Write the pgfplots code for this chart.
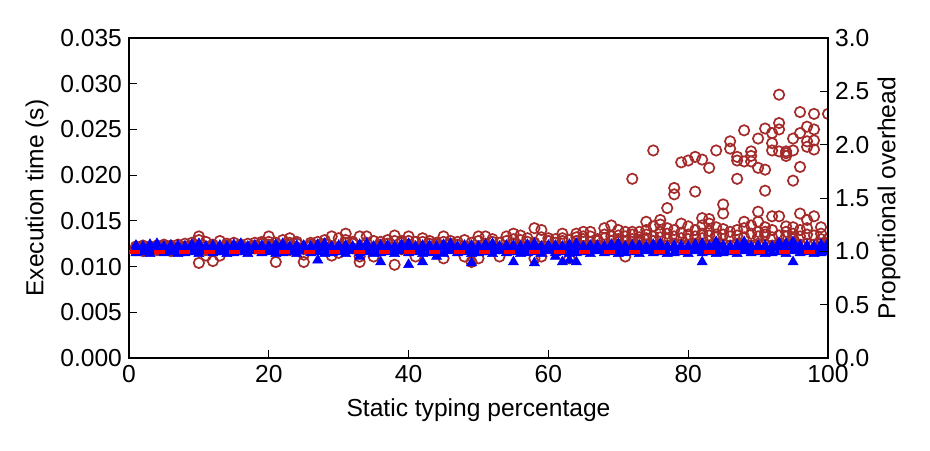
\documentclass[border=0pt]{standalone}
\usepackage{fontspec}
\setmainfont{Liberation Sans}
\usepackage{pgfplots}
\usepackage{pgfplotstable}
\pgfplotsset{compat=1.18}
\definecolor{cbrown}{RGB}{165,42,42}

\pgfplotstableread{
x c1 c2 c3
1 0.0118 0.0120 0.0122
2 0.0117 0.0121 0.0123
3 0.0119 0.0122 0.0120
4 0.0118 0.0123 0.0121
5 0.0120 0.0122 0.0124
6 0.0117 0.0121 0.0123
7 0.0119 0.0124 0.0121
8 0.0118 0.0122 0.0125
9 0.0120 0.0123 0.0126
10 0.0119 0.0129 0.0104
11 0.0118 0.0122 0.0112
12 0.0120 0.0124 0.0106
13 0.0119 0.0128 0.0112
14 0.0118 0.0123 0.0125
15 0.0120 0.0126 0.0122
16 0.0119 0.0124 0.0121
17 0.0121 0.0125 0.0118
18 0.0120 0.0123 0.0126
19 0.0118 0.0125 0.0127
20 0.0121 0.0133 0.0124
21 0.0119 0.0105 0.0126
22 0.0122 0.0129 0.0120
23 0.0118 0.0131 0.0124
24 0.0121 0.0125 0.0127
25 0.0119 0.0105 0.0113
26 0.0122 0.0126 0.0124
27 0.0120 0.0127 0.0123
28 0.0118 0.0125 0.0129
29 0.0121 0.0133 0.0112
30 0.0119 0.0131 0.0115
31 0.0122 0.0136 0.0126
32 0.0120 0.0127 0.0125
33 0.0118 0.0105 0.0111
34 0.0121 0.0133 0.0126
35 0.0119 0.0111 0.0128
36 0.0122 0.0127 0.0124
37 0.0120 0.0129 0.0125
38 0.0121 0.0134 0.0102
39 0.0119 0.0126 0.0128
40 0.0122 0.0133 0.0124
41 0.0120 0.0111 0.0127
42 0.0121 0.0131 0.0127
43 0.0119 0.0125 0.0128
44 0.0122 0.0126 0.0124
45 0.0120 0.0133 0.0109
46 0.0121 0.0128 0.0125
47 0.0119 0.0127 0.0124
48 0.0122 0.0129 0.0111
49 0.0120 0.0105 0.0126
50 0.0121 0.0109 0.0128
51 0.0119 0.0133 0.0125
52 0.0122 0.0127 0.0130
53 0.0120 0.0111 0.0126
54 0.0121 0.0133 0.0128
55 0.0119 0.0136 0.0125
56 0.0122 0.0134 0.0129
57 0.0120 0.0127 0.0131
58 0.0121 0.0142 0.0109
59 0.0119 0.0140 0.0111
60 0.0122 0.0128 0.0131
61 0.0120 0.0126 0.0130
62 0.0121 0.0136 0.0131
63 0.0123 0.0129 0.0109
64 0.0120 0.0136 0.0128
65 0.0122 0.0133 0.0130
66 0.0121 0.0138 0.0127
67 0.0123 0.0130 0.0128
68 0.0122 0.0142 0.0131
69 0.0121 0.0145 0.0133
70 0.0123 0.0140 0.0130
71 0.0122 0.0128 0.0111
72 0.0124 0.0130 0.0196
73 0.0123 0.0129 0.0138
74 0.0124 0.0131 0.0149
75 0.0122 0.0128 0.0227
76 0.0124 0.0132 0.0151
77 0.0123 0.0130 0.0164
78 0.0125 0.0133 0.0186
79 0.0124 0.0131 0.0214
80 0.0123 0.0130 0.0216
81 0.0125 0.0133 0.0220
82 0.0124 0.0131 0.0217
83 0.0123 0.0134 0.0208
84 0.0125 0.0132 0.0227
85 0.0124 0.0135 0.0168
86 0.0123 0.0133 0.0237
87 0.0125 0.0134 0.0220
88 0.0124 0.0132 0.0249
89 0.0123 0.0136 0.0226
90 0.0125 0.0133 0.0240
91 0.0124 0.0135 0.0251
92 0.0123 0.0132 0.0246
93 0.0125 0.0134 0.0288
94 0.0124 0.0133 0.0226
95 0.0123 0.0131 0.0227
96 0.0124 0.0133 0.0269
97 0.0125 0.0135 0.0253
98 0.0124 0.0134 0.0267
99 0.0125 0.0136 0.0143
100 0.0126 0.0130 0.0267
}\circmain

\pgfplotstableread{
x y
10 0.0133
11 0.0127
20 0.0127
23 0.0126
31 0.0129
33 0.0133
35 0.0121
38 0.0128
40 0.0128
45 0.0127
50 0.0133
55 0.0130
58 0.0126
59 0.0132
62 0.0128
64 0.0132
65 0.0138
66 0.0133
68 0.0135
69 0.0128
70 0.0134
70 0.0127
71 0.0138
71 0.0133
72 0.0138
72 0.0135
73 0.0132
73 0.0126
74 0.0135
74 0.0140
75 0.0144
75 0.0133
76 0.0138
76 0.0146
77 0.0136
77 0.0142
78 0.0179
78 0.0140
79 0.0147
79 0.0137
80 0.0144
80 0.0135
81 0.0182
81 0.0140
82 0.0153
82 0.0145
82 0.0136
83 0.0152
83 0.0147
83 0.0139
84 0.0143
84 0.0135
85 0.0158
85 0.0141
86 0.0229
86 0.0138
87 0.0216
87 0.0196
87 0.0140
88 0.0215
88 0.0149
88 0.0142
89 0.0221
89 0.0215
89 0.0145
90 0.0208
90 0.0160
90 0.0149
90 0.0138
91 0.0206
91 0.0183
91 0.0138
91 0.0143
92 0.0235
92 0.0227
92 0.0155
92 0.0140
93 0.0257
93 0.0250
93 0.0226
93 0.0155
94 0.0224
94 0.0221
94 0.0144
94 0.0138
95 0.0240
95 0.0194
95 0.0136
95 0.0130
95 0.0143
96 0.0246
96 0.0209
96 0.0158
96 0.0140
97 0.0237
97 0.0231
97 0.0151
97 0.0142
98 0.0250
98 0.0238
98 0.0228
98 0.0155
99 0.0130
}\circextra

\pgfplotstableread{
x t1 t2 t3
1 0.0115 0.0119 0.0123
2 0.0116 0.0121 0.0122
3 0.0114 0.0120 0.0124
4 0.0117 0.0118 0.0125
5 0.0115 0.0121 0.0122
6 0.0116 0.0119 0.0123
7 0.0114 0.0121 0.0123
8 0.0115 0.0120 0.0122
9 0.0116 0.0118 0.0124
10 0.0114 0.0121 0.0125
11 0.0117 0.0119 0.0122
12 0.0115 0.0121 0.0123
13 0.0116 0.0120 0.0123
14 0.0114 0.0118 0.0122
15 0.0115 0.0121 0.0124
16 0.0116 0.0119 0.0125
17 0.0114 0.0121 0.0122
18 0.0117 0.0120 0.0123
19 0.0115 0.0118 0.0123
20 0.0116 0.0121 0.0122
21 0.0114 0.0119 0.0124
22 0.0115 0.0121 0.0125
23 0.0116 0.0120 0.0122
24 0.0114 0.0118 0.0123
25 0.0117 0.0121 0.0123
26 0.0115 0.0119 0.0122
27 0.0116 0.0121 0.0124
28 0.0114 0.0120 0.0125
29 0.0115 0.0118 0.0122
30 0.0116 0.0121 0.0123
31 0.0114 0.0119 0.0123
32 0.0117 0.0121 0.0122
33 0.0115 0.0120 0.0124
34 0.0116 0.0118 0.0125
35 0.0114 0.0121 0.0122
36 0.0115 0.0119 0.0123
37 0.0116 0.0121 0.0123
38 0.0114 0.0120 0.0122
39 0.0117 0.0118 0.0124
40 0.0115 0.0121 0.0125
41 0.0116 0.0119 0.0122
42 0.0114 0.0121 0.0123
43 0.0115 0.0120 0.0123
44 0.0116 0.0118 0.0122
45 0.0114 0.0121 0.0124
46 0.0117 0.0119 0.0125
47 0.0115 0.0121 0.0122
48 0.0116 0.0120 0.0123
49 0.0114 0.0118 0.0123
50 0.0115 0.0121 0.0122
51 0.0116 0.0119 0.0124
52 0.0114 0.0121 0.0125
53 0.0117 0.0120 0.0122
54 0.0115 0.0118 0.0123
55 0.0116 0.0121 0.0123
56 0.0114 0.0119 0.0122
57 0.0115 0.0121 0.0124
58 0.0116 0.0120 0.0125
59 0.0114 0.0118 0.0122
60 0.0117 0.0121 0.0123
61 0.0115 0.0119 0.0123
62 0.0116 0.0121 0.0122
63 0.0114 0.0120 0.0124
64 0.0115 0.0118 0.0125
65 0.0116 0.0121 0.0122
66 0.0114 0.0119 0.0123
67 0.0117 0.0121 0.0123
68 0.0115 0.0120 0.0122
69 0.0116 0.0118 0.0124
70 0.0114 0.0121 0.0125
71 0.0115 0.0119 0.0122
72 0.0116 0.0121 0.0123
73 0.0114 0.0120 0.0123
74 0.0117 0.0118 0.0122
75 0.0115 0.0121 0.0124
76 0.0116 0.0119 0.0125
77 0.0114 0.0121 0.0122
78 0.0115 0.0120 0.0123
79 0.0116 0.0118 0.0123
80 0.0114 0.0121 0.0122
81 0.0117 0.0119 0.0124
82 0.0115 0.0121 0.0125
83 0.0116 0.0120 0.0122
84 0.0114 0.0118 0.0123
85 0.0115 0.0121 0.0123
86 0.0116 0.0119 0.0122
87 0.0114 0.0121 0.0124
88 0.0117 0.0120 0.0125
89 0.0115 0.0118 0.0122
90 0.0116 0.0121 0.0123
91 0.0114 0.0119 0.0123
92 0.0115 0.0121 0.0122
93 0.0116 0.0120 0.0124
94 0.0114 0.0118 0.0125
95 0.0117 0.0121 0.0122
96 0.0115 0.0119 0.0123
97 0.0116 0.0121 0.0123
98 0.0114 0.0120 0.0122
99 0.0115 0.0118 0.0124
100 0.0116 0.0121 0.0125
}\trimain

\pgfplotstableread{
x y
27 0.0107
33 0.0111
36 0.0105
40 0.0102
42 0.0105
44 0.0111
49 0.0104
55 0.0105
58 0.0104
61 0.0111
62 0.0105
63 0.0107
64 0.0105
82 0.0105
84 0.0127
88 0.0127
93 0.0126
95 0.0127
95 0.0105
}\triextra

\begin{document}
\begin{tikzpicture}[font=\fontsize{12.3}{14.5}\selectfont]
\path[use as bounding box] (-64.5pt,-46pt) rectangle (400.5pt,179pt);
\pgfplotsset{
  every axis/.append style={
    scale only axis, width=349.5pt, height=160pt,
    at={(0,0)}, anchor=south west,
    xmin=0, xmax=100,
    tick align=inside,
    major tick length=4pt,
    every tick/.style={black, line width=0.5pt},
    axis line style={line width=0.7pt},
    /pgf/number format/assume math mode=true,
  },
}
\begin{axis}[
  ymin=0, ymax=0.035,
  clip marker paths=true,
  xtick={0,20,40,60,80,100},
  ytick={0,0.005,0.010,0.015,0.020,0.025,0.030,0.035},
  xtick pos=bottom, ytick pos=left,
  scaled y ticks=false,
  yticklabel style={/pgf/number format/.cd, fixed, fixed zerofill, precision=3},
  xlabel={Static typing percentage},
  ylabel={Execution time (s)},
  every axis x label/.style={at={(axis description cs:0.5,-0.1625)}, anchor=center},
  every axis y label/.style={at={(axis description cs:-0.1316,0.5)}, anchor=center, rotate=90},
]
\addplot[only marks, mark=o, mark size=2.6pt, cbrown, line width=0.85pt] table[x=x, y=c1] {\circmain};
\addplot[only marks, mark=o, mark size=2.6pt, cbrown, line width=0.85pt] table[x=x, y=c2] {\circmain};
\addplot[only marks, mark=o, mark size=2.6pt, cbrown, line width=0.85pt] table[x=x, y=c3] {\circmain};
\addplot[only marks, mark=o, mark size=2.6pt, cbrown, line width=0.85pt] table[x=x, y=y] {\circextra};
\addplot[only marks, mark=triangle*, mark size=2.9pt, blue, mark options={fill=blue, draw=blue, line width=0.3pt}] table[x=x, y=t1] {\trimain};
\addplot[only marks, mark=triangle*, mark size=2.9pt, blue, mark options={fill=blue, draw=blue, line width=0.3pt}] table[x=x, y=t2] {\trimain};
\addplot[only marks, mark=triangle*, mark size=2.9pt, blue, mark options={fill=blue, draw=blue, line width=0.3pt}] table[x=x, y=t3] {\trimain};
\addplot[only marks, mark=triangle*, mark size=2.9pt, blue, mark options={fill=blue, draw=blue, line width=0.3pt}] table[x=x, y=y] {\triextra};
\addplot[red, line width=2pt, dash pattern=on 5.5pt off 7pt] coordinates {(0,0.0116) (100,0.0116)};
\end{axis}
\begin{axis}[
  ymin=0, ymax=3,
  axis y line*=right, axis x line=none,
  ytick={0,0.5,1,1.5,2,2.5,3},
  yticklabel style={/pgf/number format/.cd, fixed, fixed zerofill, precision=1},
  ylabel={Proportional overhead},
  every axis y label/.style={at={(axis description cs:1.0873,0.5)}, anchor=center, rotate=90},
]
\end{axis}
\end{tikzpicture}
\end{document}
